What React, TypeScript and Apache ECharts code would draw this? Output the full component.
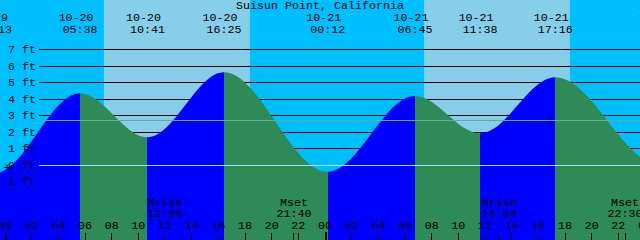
import React, { useEffect, useRef } from 'react';
import * as echarts from 'echarts';

// ---------- data ----------
const chartTitle = 'Suisun Point, California';

// tide extremes (MM-DD, HH:MM local, feet)
const tideDates = ['10-19', '10-19', '10-20', '10-20', '10-20', '10-21', '10-21', '10-21', '10-21', '10-22', '10-22'];
const tideTimes = ['16:40', '23:13', '05:38', '10:41', '16:25', '00:12', '06:45', '11:38', '17:16', '01:10', '07:55'];
const tideLevels = [5.8, -0.5, 4.35, 1.68, 5.62, -0.41, 4.18, 1.92, 5.32, 0.0, 4.1];

// daylight periods
const sunriseDates = ['10-20', '10-21'];
const sunriseTimes = ['07:25', '07:26'];
const sunsetDates = ['10-20', '10-21'];
const sunsetTimes = ['18:22', '18:22'];

// moon events
const moonNames = ['Mrise', 'Mset', 'Mrise', 'Mset'];
const moonDates = ['10-20', '10-20', '10-21', '10-21'];
const moonTimes = ['12:00', '21:40', '13:04', '22:30'];

// hour ticks (hours since 10-20 00:00) and their labels
const hourTicks = [0, 2, 4, 6, 8, 10, 12, 14, 16, 18, 20, 22, 24, 26, 28, 30, 32, 34, 36, 38, 40, 42, 44, 46, 48];
const hourLabels = ['00', '02', '04', '06', '08', '10', '12', '14', '16', '18', '20', '22', '00', '02', '04', '06', '08', '10', '12', '14', '16', '18', '20', '22', '00'];

// depth grid
const ftLevels = [-1, 0, 1, 2, 3, 4, 5, 6, 7];
const ftLabels = ['-1 ft', '0 ft', '1 ft', '2 ft', '3 ft', '4 ft', '5 ft', '6 ft', '7 ft'];
const datumLevel = 0;
const mslLevel = 2.7;

// axis window
const xMin = -0.375; // 10-19 23:37:30
const xMax = 47.625;
const yMin = -4.5444;
const yMax = 10.001;

// ---------- helpers ----------
const toHours = (date: string, time: string) => {
  const day = parseInt(date.split('-')[1], 10) - 20;
  const [hh, mm] = time.split(':').map((v) => parseInt(v, 10));
  return day * 24 + hh + mm / 60;
};

const FONT = '11.67px "Liberation Mono", "DejaVu Sans Mono", monospace';
const BLACK = '#000000';

const txt = (x: number, y: number, text: string, align = 'center') => ({
  type: 'text',
  x,
  y,
  style: {
    text,
    font: FONT,
    fill: BLACK,
    align,
    textAlign: align,
    verticalAlign: 'middle',
    textVerticalAlign: 'middle',
  },
});

const tideHours = tideDates.map((d, i) => toHours(d, tideTimes[i]));
const tideData = tideHours.map((h, i) => [h, tideLevels[i]]);
const dayBands = sunriseDates.map((d, i) => [toHours(d, sunriseTimes[i]), toHours(sunsetDates[i], sunsetTimes[i])]);
const moonHours = moonDates.map((d, i) => toHours(d, moonTimes[i]));

const RISE = '#0000FF';
const FALL = '#2E8B57';

const pieces: any[] = [];
for (let i = 0; i < tideHours.length - 1; i++) {
  pieces.push({
    gte: tideHours[i],
    lt: tideHours[i + 1],
    color: tideLevels[i + 1] > tideLevels[i] ? RISE : FALL,
  });
}

export default function App() {
  const ref = useRef<HTMLDivElement>(null);

  useEffect(() => {
    document.body.style.margin = '0';
    const chart = echarts.init(ref.current!, null, { renderer: 'svg' });

    const option: any = {
      animation: false,
      backgroundColor: '#00BFFF',
      grid: { left: 0, right: 0, top: 0, bottom: 0, containLabel: false },
      xAxis: { type: 'value', min: xMin, max: xMax, show: false },
      yAxis: { type: 'value', min: yMin, max: yMax, show: false },
      visualMap: {
        type: 'piecewise',
        show: false,
        dimension: 0,
        seriesIndex: 2,
        pieces,
        outOfRange: { color: FALL },
      },
      graphic: [
        { type: 'text', x: 320, y: 6.2, z: 100, style: { text: chartTitle, font: FONT, fill: BLACK, align: 'center', textAlign: 'center', verticalAlign: 'middle', textVerticalAlign: 'middle' } },
        { type: 'text', x: 7, y: 167.5, z: 100, style: { text: '+', font: FONT, fill: BLACK, align: 'center', textAlign: 'center', verticalAlign: 'middle', textVerticalAlign: 'middle' } },
      ],
      series: [
        // 0: daylight bands
        {
          type: 'custom',
          z: 1,
          silent: true,
          data: dayBands,
          renderItem: (params: any, api: any) => {
            const cs = params.coordSys;
            const s = api.coord([api.value(0), 0])[0];
            const e = api.coord([api.value(1), 0])[0];
            return { type: 'rect', shape: { x: s, y: cs.y, width: e - s, height: cs.height }, style: { fill: '#87CEEB' } };
          },
        },
        // 1: feet grid lines (under water)
        {
          type: 'custom',
          z: 2,
          silent: true,
          data: ftLevels.map((v) => [xMin, v]),
          renderItem: (params: any, api: any) => {
            const cs = params.coordSys;
            const y = Math.floor(api.coord([xMin, api.value(1)])[1]) + 0.5;
            return { type: 'line', shape: { x1: cs.x + 39, y1: y, x2: cs.x + cs.width, y2: y }, style: { stroke: BLACK, lineWidth: 1 } };
          },
        },
        // 2: tide curve
        {
          type: 'line',
          z: 3,
          silent: true,
          data: tideData,
          smooth: 0.35,
          smoothMonotone: 'x',
          showSymbol: false,
          symbol: 'none',
          lineStyle: { opacity: 0, width: 0 },
          areaStyle: { opacity: 1, origin: 'start' },
        },
        // 3: datum and mean-level lines over water
        {
          type: 'custom',
          z: 4,
          silent: true,
          data: [[xMin, datumLevel], [xMin, mslLevel]],
          renderItem: (params: any, api: any) => {
            const cs = params.coordSys;
            const y = Math.floor(api.coord([xMin, api.value(1)])[1]) + 0.5;
            const color = params.dataIndex === 0 ? '#A9DDF3' : '#62AC95';
            return { type: 'line', shape: { x1: cs.x + 39, y1: y, x2: cs.x + cs.width, y2: y }, style: { stroke: color, lineWidth: 1 } };
          },
        },
        // 4: feet labels
        {
          type: 'custom',
          z: 5,
          silent: true,
          data: ftLevels.map((v) => [xMin, v]),
          renderItem: (params: any, api: any) => {
            const y = Math.floor(api.coord([xMin, api.value(1)])[1]) + 0.5;
            return txt(36, y + 0.7, ftLabels[params.dataIndex], 'right');
          },
        },
        // 5: tide event labels at top
        {
          type: 'custom',
          z: 5,
          silent: true,
          data: tideData,
          renderItem: (params: any, api: any) => {
            const x = api.coord([api.value(0), 0])[0];
            const i = params.dataIndex;
            return {
              type: 'group',
              children: [txt(x - 4, 18.2, tideDates[i]), txt(x, 30.4, tideTimes[i])],
            };
          },
        },
        // 6: hour ticks + labels
        {
          type: 'custom',
          z: 5,
          silent: true,
          data: hourTicks.map((h) => [h, 0]),
          renderItem: (params: any, api: any) => {
            const h = api.value(0);
            const x = api.coord([h, 0])[0];
            const i = params.dataIndex;
            const tick = h % 24 === 0
              ? { type: 'rect', shape: { x: Math.floor(x), y: 232, width: 2, height: 8 }, style: { fill: BLACK } }
              : { type: 'line', shape: { x1: Math.floor(x) + 0.5, y1: 233, x2: Math.floor(x) + 0.5, y2: 240 }, style: { stroke: BLACK, lineWidth: 1 } };
            return { type: 'group', children: [tick, txt(x, 226, hourLabels[i])] };
          },
        },
        // 7: moon events
        {
          type: 'custom',
          z: 5,
          silent: true,
          data: moonHours.map((h) => [h, 0]),
          renderItem: (params: any, api: any) => {
            const x = api.coord([api.value(0), 0])[0];
            const i = params.dataIndex;
            return {
              type: 'group',
              children: [
                { type: 'line', shape: { x1: Math.floor(x) + 0.5, y1: 233, x2: Math.floor(x) + 0.5, y2: 240 }, style: { stroke: BLACK, lineWidth: 1 } },
                txt(x, 203, moonNames[i]),
                txt(x, 214.2, moonTimes[i]),
              ],
            };
          },
        },
      ],
    };

    chart.setOption(option);
    return () => chart.dispose();
  }, []);

  return <div ref={ref} style={{ position: 'fixed', left: 0, top: 0, width: 640, height: 240 }} />;
}
